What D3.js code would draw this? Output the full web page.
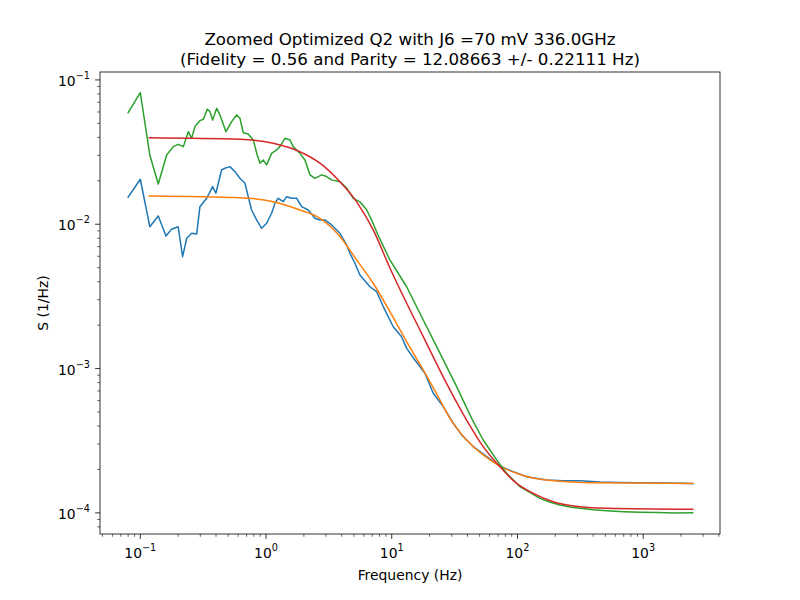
<!DOCTYPE html>
<html>
<head>
<meta charset="utf-8">
<script src="https://cdnjs.cloudflare.com/ajax/libs/d3/7.8.5/d3.min.js"></script>
<style>
  body { margin: 0; background: #fff; }
  text { font-family: "DejaVu Sans", sans-serif; fill: #000; }
</style>
</head>
<body>
<div id="chart"></div>
<script>
// measured spectrum (blue) and its fit (orange)
let blueFreq = [0.08, 0.1, 0.119, 0.139, 0.16, 0.177, 0.2, 0.217, 0.234, 0.256, 0.281, 0.298, 0.337, 0.376, 0.399,
  0.443, 0.471, 0.516, 0.566, 0.62, 0.68, 0.722, 0.768, 0.842, 0.923, 1.011, 1.108, 1.177, 1.25, 1.37, 1.458,
  1.598, 1.752, 1.92, 2.167, 2.448, 2.684, 2.942, 3.325, 3.871, 4.377, 4.65, 5.096, 5.583, 6.707, 7.585, 8.557,
  10.27, 11.98, 13.14, 15.3, 18.37, 21.38, 25.68, 30.84, 35.97, 44.5, 56.9, 72.5, 92.6, 118.3, 170.7, 230, 314,
  450, 653, 900, 1400, 2477]
let blueS = [0.01538, 0.0205, 0.00962, 0.01142, 0.0083, 0.00923, 0.00962, 0.00596, 0.008, 0.00866, 0.00857, 0.01324,
  0.01514, 0.01822, 0.0164, 0.02378, 0.02443, 0.02507, 0.02314, 0.02084, 0.01924, 0.01553, 0.01256, 0.01071,
  0.00938, 0.01016, 0.01192, 0.01397, 0.01514, 0.01434, 0.01553, 0.01514, 0.01514, 0.01324, 0.01256, 0.011,
  0.01071, 0.01071, 0.00989, 0.00866, 0.00719, 0.0063, 0.00537, 0.00445, 0.00369, 0.00341, 0.00269, 0.00195,
  0.00166, 0.00138, 0.001147, 0.000928, 0.000674, 0.000545, 0.000418, 0.000347, 0.000288, 0.000245, 0.000211,
  0.000193, 0.000178, 0.000169, 0.000167, 0.000167, 0.000164, 0.0001624, 0.000162, 0.000161, 0.0001598]

let orangeFreq = [0.118, 0.62, 1.141, 1.86, 2.684, 3.871, 5.257, 7.12, 9.67, 13.14, 17.81, 24.17, 29.03, 39.4,
  53.4, 72.5, 98.5, 150.9, 377, 2477]
let orangeS = [0.01571, 0.01528, 0.01434, 0.01256, 0.011, 0.00823, 0.00566, 0.0039, 0.00248, 0.001537, 0.000978,
  0.000606, 0.000452, 0.00032, 0.000252, 0.000211, 0.000188, 0.000171, 0.000162, 0.00016]

// measured spectrum (green) and its fit (red)
let greenFreq = [0.08, 0.1, 0.119, 0.139, 0.162, 0.183, 0.2, 0.22, 0.241, 0.256, 0.272, 0.298, 0.317, 0.341,
  0.358, 0.376, 0.405, 0.43, 0.48, 0.533, 0.584, 0.62, 0.659, 0.722, 0.791, 0.851, 0.894, 0.95, 1.011, 1.108,
  1.214, 1.29, 1.413, 1.549, 1.645, 1.86, 2.039, 2.235, 2.448, 2.768, 3.034, 3.325, 3.871, 4.377, 4.938, 5.583,
  6.313, 6.918, 7.77, 9.67, 13.14, 17.81, 24.17, 32.83, 43.2, 53.4, 68.3, 82, 104.6, 150.9, 180, 217.7, 260,
  314, 400, 512, 700, 942, 1300, 1800, 2477]
let greenS = [0.0593, 0.0816, 0.0302, 0.019, 0.0302, 0.0345, 0.0358, 0.0345, 0.0438, 0.0394, 0.0475, 0.0522,
  0.0534, 0.0627, 0.0603, 0.0528, 0.0637, 0.0572, 0.0438, 0.0514, 0.0572, 0.0543, 0.0431, 0.0422, 0.0384,
  0.0302, 0.0265, 0.0279, 0.0258, 0.031, 0.0327, 0.0345, 0.0394, 0.0384, 0.0345, 0.031, 0.0279, 0.022, 0.0208,
  0.022, 0.0214, 0.0203, 0.0197, 0.0178, 0.0151, 0.0143, 0.0126, 0.0107, 0.00843, 0.00566, 0.00369, 0.00217,
  0.00128, 0.000749, 0.000452, 0.00032, 0.000233, 0.000188, 0.000152, 0.000126, 0.000119, 0.0001134, 0.00011,
  0.0001076, 0.000105, 0.0001036, 0.000102, 0.000101, 0.0001005, 0.0001, 0.0001003]

let redFreq = [0.118, 0.62, 1.141, 1.86, 2.684, 3.871, 5.257, 7.12, 9.67, 17.81, 28.14, 39.4, 53.4, 72.5, 98.5,
  133.5, 192.6, 314, 512, 2477]
let redS = [0.0398, 0.0388, 0.0364, 0.0318, 0.0265, 0.0197, 0.0143, 0.00913, 0.00498, 0.001664, 0.000749,
  0.00044, 0.000288, 0.000209, 0.00016, 0.0001367, 0.0001196, 0.0001104, 0.0001076, 0.0001059]

let titleLines = ["Zoomed Optimized Q2 with J6 =70 mV 336.0GHz",
  "(Fidelity = 0.56 and Parity = 12.08663 +/- 0.22111 Hz)"]

let width = 800, height = 600
let axLeft = 100, axRight = 720, axTop = 72, axBottom = 534

let svg = d3.select("#chart").append("svg")
  .attr("width", width)
  .attr("height", height)

let x = d3.scaleLog().domain([0.0478, 4083]).range([axLeft, axRight])
let y = d3.scaleLog().domain([7.14e-5, 0.1135]).range([axBottom, axTop])

function zipSeries(fs, ss) {
  return fs.map(function(f, i) { return [f, ss[i]] })
}

let series = [
  { pts: zipSeries(blueFreq, blueS), color: "#1f77b4", curve: d3.curveLinear },
  { pts: zipSeries(orangeFreq, orangeS), color: "#ff7f0e", curve: d3.curveMonotoneX },
  { pts: zipSeries(greenFreq, greenS), color: "#2ca02c", curve: d3.curveLinear },
  { pts: zipSeries(redFreq, redS), color: "#d62728", curve: d3.curveMonotoneX }
]

series.forEach(function(s) {
  let line = d3.line()
    .x(function(d) { return x(d[0]) })
    .y(function(d) { return y(d[1]) })
    .curve(s.curve)
  svg.append("path")
    .datum(s.pts)
    .attr("fill", "none")
    .attr("stroke", s.color)
    .attr("stroke-width", 1.5)
    .attr("stroke-linejoin", "round")
    .attr("stroke-linecap", "square")
    .attr("d", line)
})

// log ticks, majors at powers of ten
function logTicks(scale) {
  let dom = scale.domain()
  let out = []
  let k0 = Math.floor(Math.log10(dom[0])), k1 = Math.ceil(Math.log10(dom[1]))
  for (let k = k0; k <= k1; k++) {
    for (let m = 1; m <= 9; m++) {
      let v = m * Math.pow(10, k)
      if (v >= dom[0] && v <= dom[1]) out.push({ v: v, major: m == 1, exp: k })
    }
  }
  return out
}

function powLabel(sel, exp) {
  sel.append("tspan").text("10")
  sel.append("tspan")
    .attr("dy", -7)
    .style("font-size", "9.7px")
    .text(exp < 0 ? "\u2212" + (-exp) : String(exp))
}

let axes = svg.append("g")

logTicks(x).forEach(function(t) {
  let px = x(t.v)
  axes.append("line")
    .attr("x1", px).attr("x2", px)
    .attr("y1", axBottom).attr("y2", axBottom + (t.major ? 4.9 : 2.8))
    .attr("stroke", "#000").attr("stroke-width", t.major ? 0.8 : 0.6)
  if (t.major) {
    let lab = axes.append("text")
      .attr("x", px).attr("y", 558)
      .attr("text-anchor", "middle")
      .style("font-size", "13.9px")
    powLabel(lab, t.exp)
  }
})

logTicks(y).forEach(function(t) {
  let py = y(t.v)
  axes.append("line")
    .attr("x1", axLeft).attr("x2", axLeft - (t.major ? 4.9 : 2.8))
    .attr("y1", py).attr("y2", py)
    .attr("stroke", "#000").attr("stroke-width", t.major ? 0.8 : 0.6)
  if (t.major) {
    let lab = axes.append("text")
      .attr("x", 90).attr("y", py + 6)
      .attr("text-anchor", "end")
      .style("font-size", "13.9px")
    powLabel(lab, t.exp)
  }
})

svg.append("rect")
  .attr("x", axLeft).attr("y", axTop)
  .attr("width", axRight - axLeft).attr("height", axBottom - axTop)
  .attr("fill", "none").attr("stroke", "#000").attr("stroke-width", 0.8)

svg.append("text")
  .attr("x", (axLeft + axRight) / 2).attr("y", 580)
  .attr("text-anchor", "middle")
  .style("font-size", "13.9px")
  .text("Frequency (Hz)")

svg.append("text")
  .attr("transform", "translate(48," + ((axTop + axBottom) / 2) + ") rotate(-90)")
  .attr("text-anchor", "middle")
  .style("font-size", "13.9px")
  .text("S (1/Hz)")

titleLines.forEach(function(t, i) {
  svg.append("text")
    .attr("x", (axLeft + axRight) / 2).attr("y", 45 + i * 19.5)
    .attr("text-anchor", "middle")
    .style("font-size", "16.7px")
    .text(t)
})
</script>
</body>
</html>
